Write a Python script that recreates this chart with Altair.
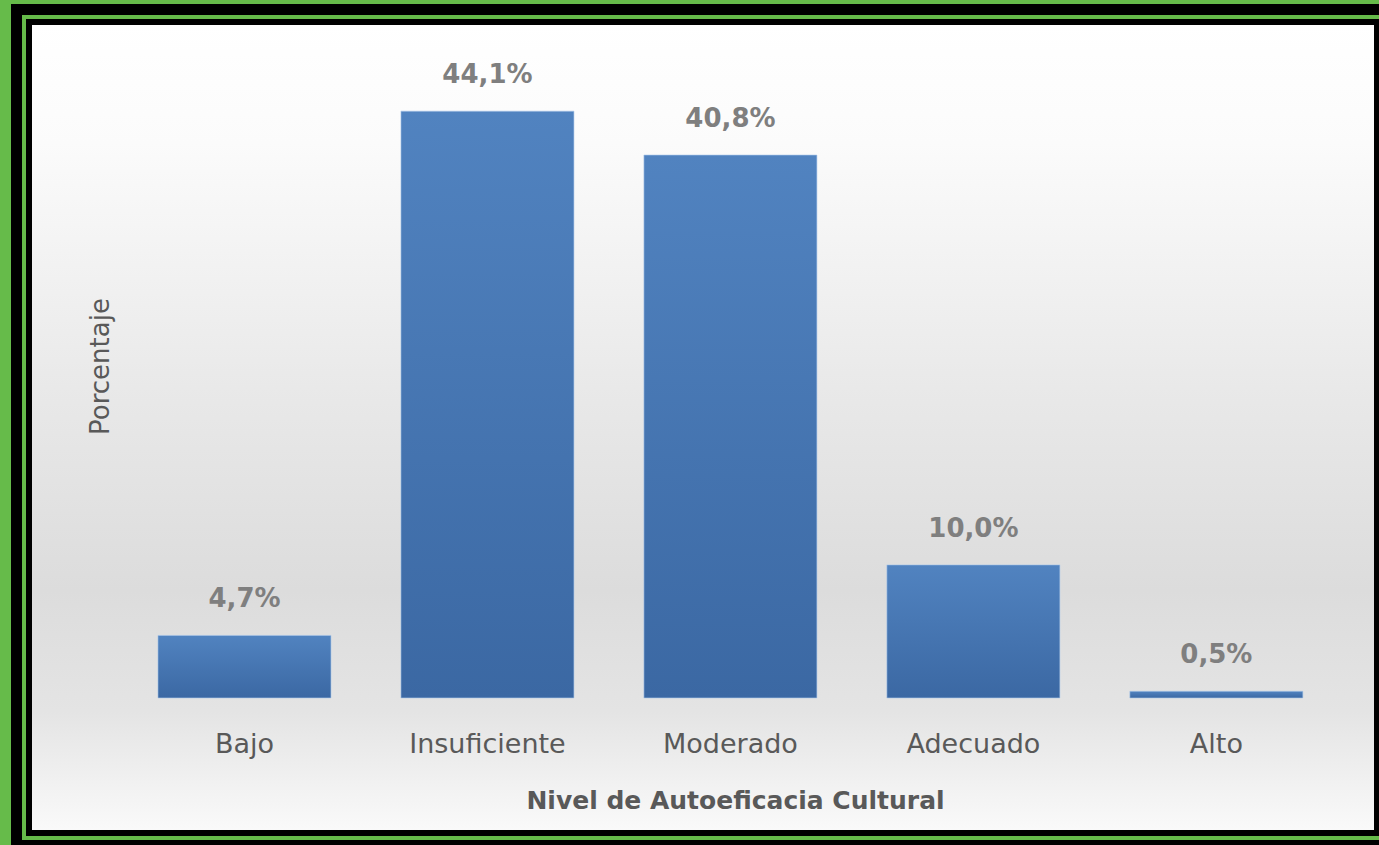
import altair as alt
import pandas as pd

# ---- data ----
categories = ["Bajo", "Insuficiente", "Moderado", "Adecuado", "Alto"]
percentages = [4.7, 44.1, 40.8, 10.0, 0.5]
labels = ["4,7%", "44,1%", "40,8%", "10,0%", "0,5%"]

df = pd.DataFrame({"nivel": categories, "pct": percentages, "label": labels})
panel = pd.DataFrame({"k": [0]})

W, H = 1348, 811
YMIN, YMAX = -10.15, 50.8
GREY = "#595959"

x_scale = alt.Scale(paddingInner=0.288, paddingOuter=0.418, align=0.635)
y_scale = alt.Scale(domain=[YMIN, YMAX], nice=False, zero=False)

x_axis = alt.Axis(
    title="Nivel de Autoeficacia Cultural", offset=-135, domain=False, ticks=False,
    labelAngle=0, labelFont="DejaVu Sans", labelFontSize=27, labelColor=GREY,
    labelPadding=54, labelBaseline="alphabetic",
    titleFont="DejaVu Sans", titleFontSize=25, titleFontWeight="bold", titleColor=GREY,
    titleX=706, titleY=110, titleBaseline="alphabetic", titleAlign="center",
    zindex=2,
)
y_axis = alt.Axis(
    title="Porcentaje", labels=False, ticks=False, domain=False, grid=False,
    titleFont="DejaVu Sans", titleFontSize=26, titleFontWeight="normal", titleColor=GREY,
    titleX=79, titleY=344, titleAngle=270, titleBaseline="alphabetic", titleAlign="center",
    zindex=2,
)

# outer decorative frame
frame = alt.Chart(panel).mark_rect(filled=False, stroke="black", strokeWidth=11).encode(
    x=alt.value(-12.5), x2=alt.value(W + 12.5), y=alt.value(-12.5), y2=alt.value(H + 12.5)
)

# panel background gradient
bg = alt.Chart(panel).mark_rect(
    fill=alt.LinearGradient(
        gradient="linear", x1=0, x2=0, y1=0, y2=1,
        stops=[
            alt.GradientStop(offset=0, color="#ffffff"),
            alt.GradientStop(offset=0.15, color="#fbfbfb"),
            alt.GradientStop(offset=0.45, color="#e9e9e9"),
            alt.GradientStop(offset=0.7, color="#dcdcdc"),
            alt.GradientStop(offset=0.85, color="#e4e4e4"),
            alt.GradientStop(offset=1, color="#fafafa"),
        ],
    ),
    stroke="#000000", strokeWidth=6,
).encode(
    y=alt.Y(datum=YMAX, scale=y_scale, axis=y_axis, title="Porcentaje"),
    y2=alt.Y2(datum=YMIN),
)

bars = alt.Chart(df).mark_bar(
    color=alt.LinearGradient(
        gradient="linear", x1=0, x2=0, y1=0, y2=1,
        stops=[
            alt.GradientStop(offset=0, color="#5183c0"),
            alt.GradientStop(offset=1, color="#3b68a3"),
        ],
    ),
    stroke="#a9c6ea", strokeWidth=1, strokeOpacity=0.6,
).encode(
    x=alt.X("nivel:N", sort=categories, scale=x_scale, axis=x_axis),
    y=alt.Y("pct:Q", scale=y_scale, axis=y_axis, title="Porcentaje"),
    y2=alt.Y2(datum=0),
)

text = alt.Chart(df).mark_text(
    font="DejaVu Sans", fontSize=26, fontWeight="bold", color="#7f7f7f",
    dy=-28, baseline="alphabetic", align="center",
).encode(
    x=alt.X("nivel:N", sort=categories, scale=x_scale, axis=x_axis),
    y=alt.Y("pct:Q", scale=y_scale, axis=y_axis, title="Porcentaje"),
    text="label:N",
)

chart = alt.layer(frame, bg, bars, text).properties(
    width=W, height=H,
    padding={"left": 29, "top": 22, "right": 2, "bottom": 12},
    autosize=alt.AutoSizeParams(type="none"),
    background="#66bb4a",
).configure_view(strokeWidth=0)

chart.save("out.html", embed_options={"renderer": "svg", "actions": False})
